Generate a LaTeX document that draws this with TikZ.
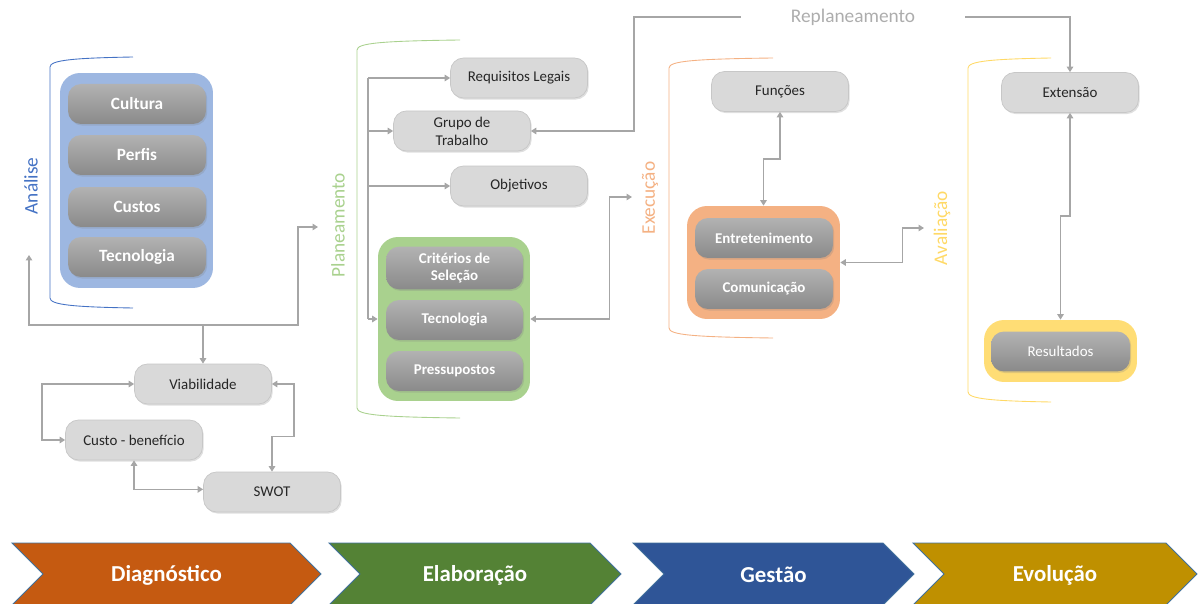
\documentclass[tikz,border=0pt]{standalone}
\usepackage{fontspec}
\setmainfont{Carlito}
\usetikzlibrary{arrows.meta, positioning, calc, shadows}
\definecolor{cLine}{RGB}{166,166,166}
\definecolor{cText}{RGB}{38,38,38}
\definecolor{cBlue}{RGB}{68,114,196}
\definecolor{cBlueFill}{RGB}{157,183,225}
\definecolor{cGreen}{RGB}{169,209,142}
\definecolor{cOrange}{RGB}{244,177,131}
\definecolor{cYellow}{RGB}{255,217,102}
\definecolor{cDiag}{RGB}{197,90,17}
\definecolor{cElab}{RGB}{84,130,53}
\definecolor{cGest}{RGB}{47,85,151}
\definecolor{cEvol}{RGB}{191,144,0}
\definecolor{cEdge}{RGB}{65,113,156}
\tikzset{
	lightbox/.style={rectangle, rounded corners=0.26cm, minimum width=2.74cm, minimum height=0.8cm, align=center, draw=black!22, line width=0.4pt, fill=black!15, text=cText, font=\fontsize{8.5}{10.2}\selectfont, drop shadow={opacity=0.25, shadow xshift=0.7pt, shadow yshift=-0.9pt}},
	darkbox/.style={rectangle, rounded corners=0.26cm, minimum width=2.76cm, minimum height=0.8cm, align=center, top color=black!30, bottom color=black!46, text=white, font=\bfseries\fontsize{8.5}{10.2}\selectfont, drop shadow={opacity=0.25, shadow xshift=0.7pt, shadow yshift=-0.9pt}},
	groupbox/.style={rectangle, rounded corners=0.4cm, minimum width=3.06cm},
	grouplabel/.style={rotate=90, font=\fontsize{11}{13}\selectfont},
	conn/.style={draw=cLine, line width=0.8pt},
	phase/.style={text=white, font=\bfseries\fontsize{13}{15}\selectfont},
	>={Triangle[length=1.1mm, width=1.3mm]},
}
\begin{document}
\begin{tikzpicture}[x=0.02cm, y=-0.02cm]
	\useasboundingbox (0,0) rectangle (1200,604);
	% brackets and stage labels
	\foreach \bx/\by/\ey/\ex/\c in {50/57/308/133/cBlue, 357/40/418/460/cGreen, 669/58/338/773/cOrange, 968/58/402/1051/cYellow} {
		\draw[\c, line width=0.5pt] (\ex,\by) .. controls (\bx+25,\by+1) and (\bx,\by+3) .. (\bx,\by+10) -- (\bx,\ey-10) .. controls (\bx,\ey-3) and (\bx+25,\ey-1) .. (\ex,\ey);
	}
	\node[grouplabel, text=cBlue] (lanalise) at (31,186) {Análise};
	\node[grouplabel, text=cGreen] (lplan) at (338,225) {Planeamento};
	\node[grouplabel, text=cOrange] (lexec) at (650,198) {Execução};
	\node[grouplabel, text=cYellow] (laval) at (942,228) {Avaliação};

	% diagnostico
	\node[groupbox, fill=cBlueFill, minimum height=4.3cm] (ancont) at (136.5,180.5) {};
	\foreach \t/\y [count=\i] in {Cultura/104, Perfis/155, Custos/207, Tecnologia/257} {
		\node[darkbox, font=\bfseries\fontsize{9.8}{11}\selectfont] (an\i) at (137,\y) {\t};
	}
	\node[lightbox] (viab) at (203,384) {Viabilidade};
	\node[lightbox] (custo) at (134,440) {Custo - benefício};
	\node[lightbox] (swot) at (272,492) {SWOT};

	% planeamento
	\node[lightbox] (req) at (519,78) {Requisitos Legais};
	\node[lightbox] (grupo) at (462,131) {Grupo de\\Trabalho};
	\node[lightbox] (obj) at (519,186) {Objetivos};
	\node[groupbox, fill=cGreen, minimum width=3.04cm, minimum height=3.28cm] (plcont) at (454,319) {};
	\node[darkbox, minimum width=2.74cm] (crit) at (454.5,268) {Critérios de\\Seleção};
	\node[darkbox, minimum width=2.74cm] (pltec) at (454.5,320) {Tecnologia};
	\node[darkbox, minimum width=2.74cm] (press) at (454.5,371) {Pressupostos};

	% execucao
	\node[lightbox] (func) at (780,91.5) {Funções};
	\node[groupbox, fill=cOrange, minimum height=2.26cm] (excont) at (763.5,262.5) {};
	\node[darkbox] (entr) at (764,238) {Entretenimento};
	\node[darkbox] (comun) at (764,289) {Comunicação};

	% avaliacao
	\node[lightbox] (ext) at (1070,92.5) {Extensão};
	\node[groupbox, fill=cYellow!90, minimum height=1.24cm] (rescont) at (1060.5,351) {};
	\node[darkbox, minimum width=2.78cm, font=\fontsize{8.5}{10.2}\selectfont] (res) at (1060.5,351.5) {Resultados};

	\node[text=black!32, font=\fontsize{11}{13}\selectfont, inner sep=0pt] (replan) at (853,17) {Replaneamento};

	% connectors
	\coordinate (jd) at (203,325);
	\coordinate (analiseEnd) at (29,255);
	\coordinate (planEnd) at (318,227);
	\coordinate (execEnd) at (632,197);
	\coordinate (avalEnd) at (924,228);
	\coordinate (pl) at (368,0);
	\draw[conn, ->] (jd) -- (viab.north);
	\draw[conn, ->] (jd) -| (analiseEnd);
	\draw[conn, ->] (jd) -- ++(95,0) |- (planEnd);
	\draw[conn, <->] (viab.west) -- ++(-92,0) |- (custo.west);
	\draw[conn, <->] (viab.east) -- ++(22,0) |- ($(swot.north)+(0,-35)$) -- (swot.north);
	\draw[conn, <->] (custo.south) |- ([yshift=1.5pt]swot.west);

	\draw[conn] (req.west -| pl) -- (plcont.west -| pl);
	\draw[conn, ->] (req.west -| pl) -- (req.west);
	\draw[conn, ->] (grupo.west -| pl) -- (grupo.west);
	\draw[conn, ->] (obj.west -| pl) -- (obj.west);
	\draw[conn, ->] (plcont.west -| pl) -- (plcont.west);
	\draw[conn, <->] (plcont.east) -- ++(79,0) |- (execEnd);
	\draw[conn, ->] ($(replan.west)+(-50,0)$) -| ($(grupo.east)+(103,0)$) -- (grupo.east);
	\draw[conn, ->] ($(replan.east)+(50,0)$) -| (ext.north);

	\draw[conn, <->] (func.south) -- ++(0,47) -| (excont.north);
	\draw[conn, <->] (excont.east) -- ++(62,0) |- (avalEnd);
	\draw[conn, <->] (ext.south) -- ++(0,103) -| (rescont.north);

	% phases
	\foreach \l/\r/\c/\t [count=\i] in {12/321/cDiag/Diagnóstico, 329/621/cElab/Elaboração, 633/914/cGest/Gestão, 913/1197/cEvol/Evolução} {
		\fill[\c, draw=cEdge, line width=0.5pt] (\l,543) -- (\r-31,543) -- (\r,574) -- (\r-31,605) -- (\l,605) -- (\l+31,574) -- cycle;
		\node[phase] (ph\i) at ({(\l+\r)/2},575) {\t};
	}
\end{tikzpicture}
\end{document}
